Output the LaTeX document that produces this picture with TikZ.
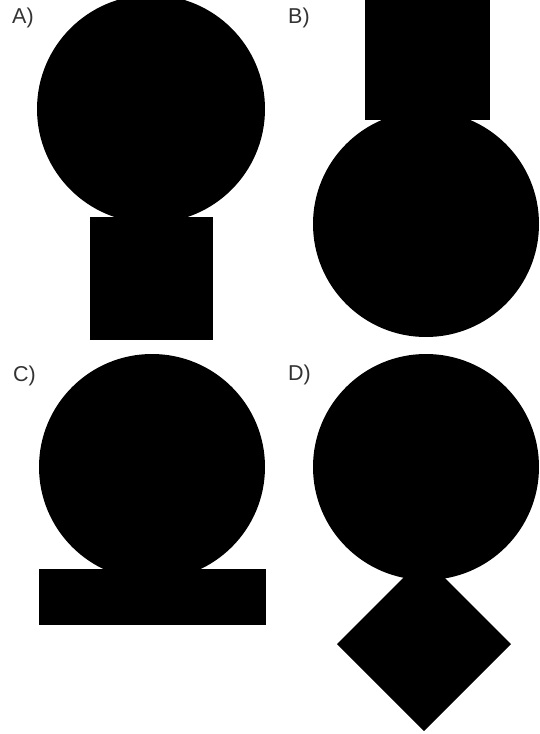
\documentclass[tikz,border=0pt]{standalone}
\usepackage{fontspec}
\setmainfont{Liberation Sans}
\definecolor{labelgray}{HTML}{333333}
\begin{document}
\begin{tikzpicture}[x=1pt,y=-1pt,
  optlabel/.style={anchor=base west,inner sep=0pt,text=labelgray,font=\fontsize{21.5}{25}\selectfont},
  shapefill/.style={fill=black}]
\useasboundingbox (0,0) rectangle (539,734);
% A
\node[optlabel] (la) at (12,23) {A)};
\fill[shapefill] (151,109) circle (114);
\fill[shapefill] (90,216.5) rectangle (213,340);
% B
\node[optlabel] (lb) at (288,23) {B)};
\fill[shapefill] (364.5,-1) rectangle (490,120);
\fill[shapefill] (426,224) circle (113);
% C
\node[optlabel] (lc) at (13,381) {C)};
\fill[shapefill] (152,467) circle (113);
\fill[shapefill] (39,568.5) rectangle (265.5,625);
% D
\node[optlabel] (ld) at (288,380) {D)};
\fill[shapefill] (426,467) circle (113);
\fill[shapefill] (424,557) -- (511,644) -- (424,731) -- (337,644) -- cycle;
\end{tikzpicture}
\end{document}
